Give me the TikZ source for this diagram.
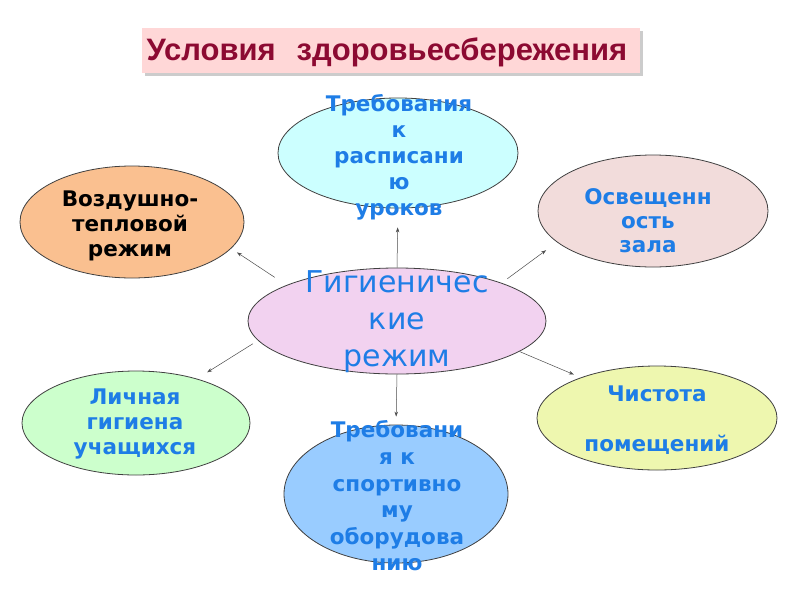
\documentclass[tikz,border=0pt]{standalone}
\usepackage{fontspec}
\setmainfont{DejaVu Sans}
\newfontfamily\titlefont{Liberation Sans}
\usetikzlibrary{shapes.geometric,arrows.meta}
\definecolor{tblue}{RGB}{30,125,230}
\definecolor{titlered}{RGB}{140,10,50}
\definecolor{titlepink}{RGB}{255,215,215}
\definecolor{cTop}{RGB}{204,255,255}
\definecolor{cUL}{RGB}{250,192,144}
\definecolor{cUR}{RGB}{242,220,219}
\definecolor{cC}{RGB}{242,210,240}
\definecolor{cLL}{RGB}{204,255,204}
\definecolor{cLR}{RGB}{238,247,175}
\definecolor{cBot}{RGB}{153,204,255}
\begin{document}
\begin{tikzpicture}[x=1pt,y=-1pt,
  oval/.style={ellipse,draw=black!75,line width=0.8pt,inner sep=0pt},
  lbl/.style={align=center,inner sep=0pt,text=tblue,font=\bfseries\fontsize{21.5}{26}\selectfont},
  conn/.style={draw=black!70,line width=0.5pt,-{Stealth[length=5pt,width=3.5pt]}}]
\useasboundingbox[fill=white] (0,0) rectangle (800,600);
% title
\fill[black!20] (145,31) rectangle (643,76);
\node[fill=titlepink,minimum width=498pt,minimum height=45pt,inner sep=0pt] (title) at (391,50.5) {};
\node[text=titlered,inner sep=0pt,font=\titlefont\bfseries\fontsize{31}{33}\selectfont] (titletext) at (387,52) {Условия\hspace{0.4em} здоровьесбережения};
% ellipses
\node[oval,fill=cTop,minimum width=240pt,minimum height=110pt] (top) at (398,153) {};
\node[oval,fill=cUL,minimum width=224pt,minimum height=112pt] (ul) at (132,222) {};
\node[oval,fill=cUR,minimum width=230pt,minimum height=112pt] (ur) at (653,211) {};
\node[oval,fill=cC,minimum width=298pt,minimum height=106pt] (c) at (397,321) {};
\node[oval,fill=cLL,minimum width=228pt,minimum height=104pt] (ll) at (136,423) {};
\node[oval,fill=cLR,minimum width=240pt,minimum height=104pt] (lr) at (657,418) {};
\node[oval,fill=cBot,minimum width=224pt,minimum height=138pt] (bot) at (396,494) {};
% connectors
\draw[conn,shorten >=19pt] (c.90) -- (top.-90);
\draw[conn,shorten <=14pt,shorten >=7pt] (c.162.4) -- (ul.-15.4);
\draw[conn,shorten <=7pt,shorten >=13.5pt] (c.20) -- (ur.-162.2);
\draw[conn,shorten <=6pt,shorten >=12pt] (c.188.7) -- (ll.36);
\draw[conn,shorten >=7.5pt] (c.-14) -- (lr.152.5);
\draw[conn,shorten >=8pt] (c.-90) -- (bot.90);
% texts
\node[lbl] (toptext) at (399,157) {Требования\\к\\расписани\\ю\\уроков};
\node[lbl,text=black,font=\bfseries\fontsize{21.5}{25}\selectfont] (ultext) at (130,226) {Воздушно-\\тепловой\\режим};
\node[lbl,font=\bfseries\fontsize{21.5}{24}\selectfont] (urtext) at (648,221) {Освещенн\\ость\\зала};
\node[lbl,font=\fontsize{30}{37}\selectfont] (ctext) at (397,322) {Гигиеничес\\кие\\режим};
\node[lbl,font=\bfseries\fontsize{21.5}{25}\selectfont] (lltext) at (135,424) {Личная\\гигиена\\учащихся};
\node[lbl,font=\bfseries\fontsize{21.5}{25}\selectfont] (lrtext) at (657,420) {Чистота\\[25pt]помещений};
\node[lbl,font=\bfseries\fontsize{21.5}{26.6}\selectfont] (bottext) at (397,496) {Требовани\\я к\\спортивно\\му\\оборудова\\нию};
\end{tikzpicture}
\end{document}
